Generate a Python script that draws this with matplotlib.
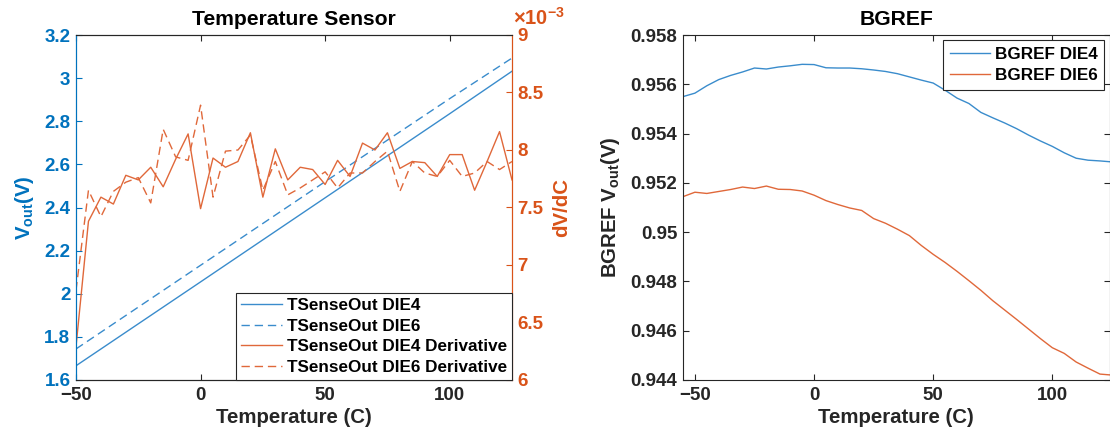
import matplotlib
matplotlib.use("Agg")
import matplotlib.pyplot as plt
from matplotlib.ticker import FuncFormatter, FixedLocator
import numpy as np

plt.rcParams['font.family'] = ['Liberation Sans', 'DejaVu Sans']
plt.rcParams['font.weight'] = 'bold'
plt.rcParams['mathtext.fontset'] = 'custom'
plt.rcParams['mathtext.rm'] = 'Liberation Sans:bold'
plt.rcParams['mathtext.bf'] = 'Liberation Sans:bold'
plt.rcParams['mathtext.it'] = 'Liberation Sans:italic:bold'

# ---------------- data ----------------
# Temperature sensor output (V)
tsense_temp = [-50, 0, 50, 100, 125]
tsense_die4 = [1.666, 2.055, 2.445, 2.835, 3.032]
tsense_die6 = [1.744, 2.132, 2.520, 2.905, 3.093]

# Derivative (x1e-3 V/C)
deriv_temp = [-50, -45, -40, -35, -30, -25, -20, -15, -10, -5, 0, 5, 10, 15, 20, 25,
              30, 35, 40, 45, 50, 55, 60, 65, 70, 75, 80, 85, 90, 95, 100, 105,
              110, 115, 120, 125]
deriv_die4 = [6.29, 7.38, 7.59, 7.53, 7.78, 7.74, 7.85, 7.68, 7.92, 8.14, 7.49, 7.93,
              7.85, 7.90, 8.15, 7.59, 8.01, 7.74, 7.85, 7.83, 7.70, 7.91, 7.77, 8.06,
              8.00, 8.15, 7.84, 7.90, 7.89, 7.77, 7.96, 7.96, 7.65, 7.90, 8.16, 7.74]
deriv_die6 = [6.78, 7.65, 7.42, 7.64, 7.72, 7.76, 7.54, 8.18, 7.94, 7.91, 8.39, 7.59,
              7.99, 8.00, 8.13, 7.65, 7.90, 7.61, 7.67, 7.74, 7.81, 7.67, 7.80, 7.80,
              7.90, 7.99, 7.64, 7.90, 7.80, 7.77, 7.91, 7.77, 7.80, 7.90, 7.83, 7.90]

# Bandgap reference (V)
bg_temp = [-55, -50, -45, -40, -35, -30, -25, -20, -15, -10, -5, 0, 5, 10, 15, 20, 25,
           30, 35, 40, 45, 50, 55, 60, 65, 70, 75, 80, 85, 90, 95, 100, 105, 110,
           115, 120, 125]
bg_die4 = [0.95550, 0.95564, 0.95594, 0.95619, 0.95636, 0.95650, 0.95666, 0.95662,
           0.95670, 0.95675, 0.95681, 0.95680, 0.95667, 0.95666, 0.95666, 0.95663,
           0.95658, 0.95652, 0.95643, 0.95630, 0.95617, 0.95605, 0.95576, 0.95544,
           0.95522, 0.95486, 0.95464, 0.95443, 0.95420, 0.95394, 0.95370, 0.95348,
           0.95322, 0.95300, 0.95292, 0.95289, 0.95285]
bg_die6 = [0.95144, 0.95162, 0.95157, 0.95165, 0.95173, 0.95183, 0.95177, 0.95187,
           0.95174, 0.95173, 0.95167, 0.95150, 0.95128, 0.95112, 0.95098, 0.95088,
           0.95055, 0.95036, 0.95012, 0.94986, 0.94946, 0.94910, 0.94877, 0.94841,
           0.94803, 0.94764, 0.94722, 0.94684, 0.94646, 0.94607, 0.94568, 0.94531,
           0.94508, 0.94473, 0.94448, 0.94424, 0.94420]

xticks = [-50, 0, 50, 100]
left_yticks = [1.6, 1.8, 2.0, 2.2, 2.4, 2.6, 2.8, 3.0, 3.2]
deriv_yticks = [6.0, 6.5, 7.0, 7.5, 8.0, 8.5, 9.0]
bg_yticks = [0.944, 0.946, 0.948, 0.950, 0.952, 0.954, 0.956, 0.958]

# ---------------- style ----------------
BLUE = '#0072BD'
ORANGE = '#D95319'
BLUE_LINE = '#3a8ccc'
ORANGE_LINE = '#e0683a'
DARK = '#262626'
W, H = 1110, 445
TICK_FS = 13.5
LABEL_FS = 14.7
TITLE_FS = 15.2
LEG_FS = 12.3
LW = 1.0
DASH = (6, 3.5)

fig = plt.figure(figsize=(W / 100, H / 100), dpi=100)

def frac(x0, y0, x1, y1):
    return [x0 / W, 1 - y1 / H, (x1 - x0) / W, (y1 - y0) / H]

# ---------------- left: temperature sensor ----------------
ax1 = fig.add_axes(frac(76, 35, 512, 380))
ax2 = ax1.twinx()

l1, = ax1.plot(tsense_temp, tsense_die4, color=BLUE_LINE, lw=LW, label='TSenseOut DIE4')
l2, = ax1.plot(tsense_temp, tsense_die6, color=BLUE_LINE, lw=LW, ls=(0, DASH),
               label='TSenseOut DIE6')
l3, = ax2.plot(deriv_temp, np.array(deriv_die4) * 1e-3, color=ORANGE_LINE, lw=LW,
               label='TSenseOut DIE4 Derivative')
l4, = ax2.plot(deriv_temp, np.array(deriv_die6) * 1e-3, color=ORANGE_LINE, lw=LW,
               ls=(0, DASH), label='TSenseOut DIE6 Derivative')

ax1.set_xlim(-50, 125)
ax1.set_ylim(1.6, 3.2)
ax2.set_ylim(6e-3, 9e-3)
ax1.xaxis.set_major_locator(FixedLocator(xticks))
ax1.yaxis.set_major_locator(FixedLocator(left_yticks))
ax2.yaxis.set_major_locator(FixedLocator([v * 1e-3 for v in deriv_yticks]))
ax1.yaxis.set_major_formatter(FuncFormatter(lambda v, p: f"{v:g}"))
ax2.yaxis.set_major_formatter(FuncFormatter(lambda v, p: f"{v * 1e3:g}"))

for sp in ['top', 'bottom']:
    ax1.spines[sp].set_color(DARK)
    ax2.spines[sp].set_color(DARK)
for a in (ax1, ax2):
    for sp in a.spines.values():
        sp.set_linewidth(0.8)
ax1.spines['left'].set_color(BLUE)
ax2.spines['left'].set_color(BLUE)
ax1.spines['right'].set_color(ORANGE)
ax2.spines['right'].set_color(ORANGE)

ax1.tick_params(axis='x', direction='in', length=4, width=0.8, colors=DARK,
                labelsize=TICK_FS, pad=5, top=True)
ax1.tick_params(axis='y', direction='in', length=4, width=0.8, colors=BLUE,
                labelsize=TICK_FS, pad=4)
ax2.tick_params(axis='y', direction='in', length=4, width=0.8, colors=ORANGE,
                labelsize=TICK_FS, pad=4)

ax1.set_title('Temperature Sensor', fontsize=TITLE_FS, fontweight='bold', pad=7,
              color='black')
ax1.set_xlabel('Temperature (C)', fontsize=LABEL_FS, fontweight='bold', color=DARK,
               labelpad=3)
ax1.set_ylabel(r'V$_{\mathbf{out}}$(V)', fontsize=LABEL_FS, fontweight='bold',
               color=BLUE, labelpad=6)
ax2.set_ylabel('dV/dC', fontsize=LABEL_FS, fontweight='bold', color=ORANGE,
               labelpad=6)
ax2.text(1.002, 1.03, r'$\times$10$^{-3}$', transform=ax2.transAxes, color=ORANGE,
         fontsize=14.5, fontweight='bold', ha='left', va='baseline')

leg1 = ax2.legend(handles=[l1, l2, l3, l4], loc='lower right', borderaxespad=0,
                  fontsize=LEG_FS, frameon=True, fancybox=False, framealpha=1,
                  edgecolor=DARK, handlelength=2.35, handletextpad=0.3,
                  labelspacing=0.32, borderpad=0.3)
leg1.get_frame().set_linewidth(0.8)

# ---------------- right: BGREF ----------------
ax3 = fig.add_axes(frac(683, 35, 1109.5, 380))
b1, = ax3.plot(bg_temp, bg_die4, color=BLUE_LINE, lw=LW, label='BGREF DIE4')
b2, = ax3.plot(bg_temp, bg_die6, color=ORANGE_LINE, lw=LW, label='BGREF DIE6')
ax3.set_xlim(-55, 124)
ax3.set_ylim(0.944, 0.958)
ax3.xaxis.set_major_locator(FixedLocator(xticks))
ax3.yaxis.set_major_locator(FixedLocator(bg_yticks))
ax3.yaxis.set_major_formatter(FuncFormatter(lambda v, p: f"{v:g}"))
for sp in ax3.spines.values():
    sp.set_color(DARK)
    sp.set_linewidth(0.8)
ax3.tick_params(axis='both', direction='in', length=4, width=0.8, colors=DARK,
                labelsize=TICK_FS, top=True, right=True)
ax3.tick_params(axis='x', pad=5)
ax3.tick_params(axis='y', pad=4)
ax3.set_title('BGREF', fontsize=TITLE_FS, fontweight='bold', pad=7, color='black')
ax3.set_xlabel('Temperature (C)', fontsize=LABEL_FS, fontweight='bold', color=DARK,
               labelpad=3)
ax3.set_ylabel(r'BGREF V$_{\mathbf{out}}$(V)', fontsize=LABEL_FS, fontweight='bold',
               color=DARK, labelpad=6)
leg2 = ax3.legend(handles=[b1, b2], loc='upper right', borderaxespad=0.3,
                  fontsize=LEG_FS, frameon=True, fancybox=False, framealpha=1,
                  edgecolor=DARK, handlelength=2.35, handletextpad=0.3,
                  labelspacing=0.35, borderpad=0.4)
leg2.get_frame().set_linewidth(0.8)

fig.savefig('out.png', dpi=100)
